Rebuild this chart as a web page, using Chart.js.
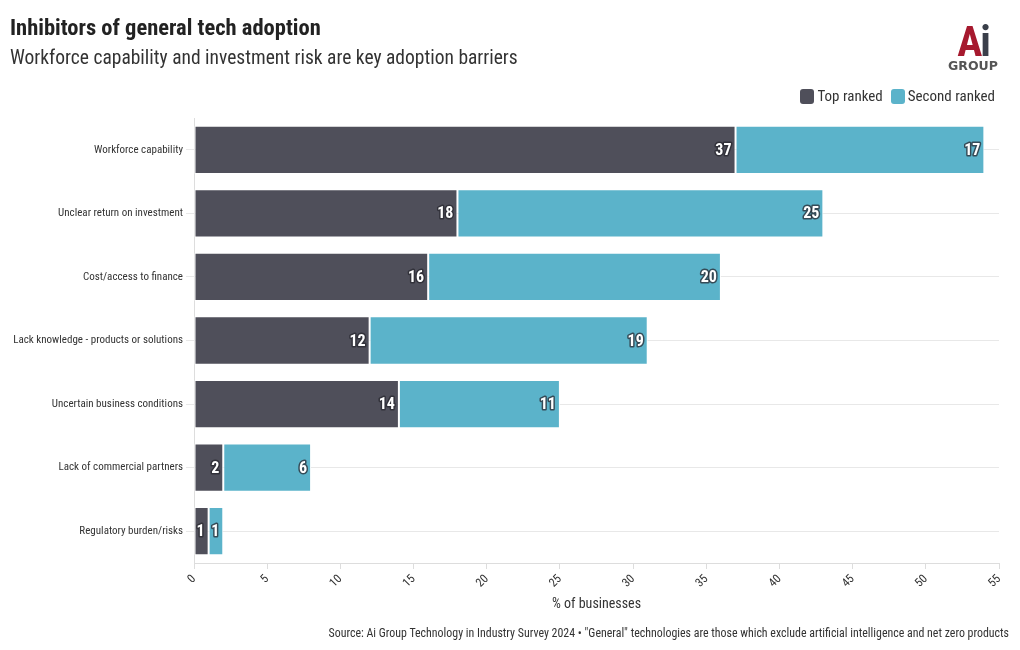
<!DOCTYPE html>
<html>
<head>
<meta charset="utf-8">
<script src="https://cdn.jsdelivr.net/npm/chart.js@4"></script>
<style>
  body { margin: 0; background: #fff; font-family: "Roboto Condensed", "Liberation Sans Narrow", Roboto, sans-serif; }
  #wrap { position: relative; width: 1020px; height: 650px; }
  #title { position: absolute; left: 10px; top: 14px; font-size: 22.5px; font-weight: bold; color: #222; }
  #subtitle { position: absolute; left: 10px; top: 46px; font-size: 19.5px; color: #333; }
  #logo { position: absolute; left: 944px; top: 23px; width: 58px; text-align: center; }
  #logo .ai { font-size: 42px; font-weight: bold; color: #a6192e; line-height: 38px; letter-spacing: -2px; }
  #logo .ai span { color: #3a3f4a; }
  #logo .grp { font-family: "DejaVu Sans", sans-serif; font-weight: bold; font-size: 12.5px; color: #555; line-height: 13px; margin-top: -2px; }
  #legend { position: absolute; right: 25px; top: 87px; display: flex; align-items: center; font-size: 15px; color: #333; }
  #legend .box { width: 14px; height: 15px; border-radius: 3px; display: inline-block; margin-right: 3px; }
  #legend .item { display: flex; align-items: center; margin-left: 8px; }
  #source { position: absolute; right: 11px; top: 626px; font-size: 11.9px; color: #333; }
  canvas { position: absolute; left: 0; top: 0; }
</style>
</head>
<body>
<div id="wrap">
  <canvas id="myChart" width="1020" height="650"></canvas>
  <div id="title">Inhibitors of general tech adoption</div>
  <div id="subtitle">Workforce capability and investment risk are key adoption barriers</div>
  <div id="logo"><div class="ai">A<span>i</span></div><div class="grp">GROUP</div></div>
  <div id="legend"></div>
  <div id="source">Source: Ai Group Technology in Industry Survey 2024 • "General" technologies are those which exclude artificial intelligence and net zero products</div>
</div>
<script>
const FONT = '"Roboto Condensed", "Liberation Sans Narrow", Roboto, sans-serif';

const categories = [
    'Workforce capability',
    'Unclear return on investment',
    'Cost/access to finance',
    'Lack knowledge - products or solutions',
    'Uncertain business conditions',
    'Lack of commercial partners',
    'Regulatory burden/risks'
];
const top_ranked = [37, 18, 16, 12, 14, 2, 1];
const second_ranked = [17, 25, 20, 19, 11, 6, 1];

// draws the value at the inner end of each bar segment
const barLabels = {
    id: 'barLabels',
    afterDatasetsDraw(chart) {
        const c = chart.ctx;
        c.save();
        c.font = 'bold 16px ' + FONT;
        c.textAlign = 'right';
        c.textBaseline = 'middle';
        c.lineJoin = 'round';
        chart.data.datasets.forEach((ds, i) => {
            chart.getDatasetMeta(i).data.forEach((bar, j) => {
                const txt = String(ds.data[j]);
                c.lineWidth = 3;
                c.strokeStyle = 'rgba(40,40,48,0.75)';
                c.strokeText(txt, bar.x - 4, bar.y + 1);
                c.fillStyle = '#fff';
                c.fillText(txt, bar.x - 4, bar.y + 1);
            });
        });
        c.restore();
    }
};

const ctx = document.getElementById('myChart');

const myChart = new Chart(ctx, {
    type: 'bar',
    data: {
        labels: categories,
        datasets: [{
            label: 'Top ranked',
            data: top_ranked,
            backgroundColor: '#4f4f5a',
            borderColor: '#fff',
            borderWidth: 1,
            borderSkipped: false
        }, {
            label: 'Second ranked',
            data: second_ranked,
            backgroundColor: '#5bb3ca',
            borderColor: '#fff',
            borderWidth: 1,
            borderSkipped: false
        }]
    },
    options: {
        indexAxis: 'y',
        responsive: false,
        animation: false,
        categoryPercentage: 0.76,
        barPercentage: 1,
        layout: { padding: { top: 118, left: 0, right: 21, bottom: 33 } },
        plugins: {
            legend: { display: false },
            tooltip: { enabled: false }
        },
        scales: {
            x: {
                stacked: true,
                min: 0, max: 55,
                ticks: { stepSize: 5, minRotation: 45, maxRotation: 45, color: '#333', font: { family: FONT, size: 12 } },
                grid: { drawOnChartArea: false, tickLength: 6, color: '#ddd' },
                border: { color: '#ddd' },
                title: { display: true, text: '% of businesses', color: '#333', font: { family: FONT, size: 14 } },
                afterFit(s) { s.height = 54; }
            },
            y: {
                stacked: true,
                ticks: { color: '#333', font: { family: FONT, size: 11 } },
                grid: { color: '#e8e8e8', tickLength: 8, offset: false },
                border: { color: '#ddd' },
                afterFit(s) { s.width = 194; }
            }
        }
    },
    plugins: [barLabels]
});

// legend built from the datasets
const legendEl = document.getElementById('legend');
myChart.data.datasets.forEach(ds => {
    const item = document.createElement('span');
    item.className = 'item';
    item.innerHTML = '<span class="box" style="background:' + ds.backgroundColor + '"></span>' + ds.label;
    legendEl.appendChild(item);
});
</script>
</body>
</html>
